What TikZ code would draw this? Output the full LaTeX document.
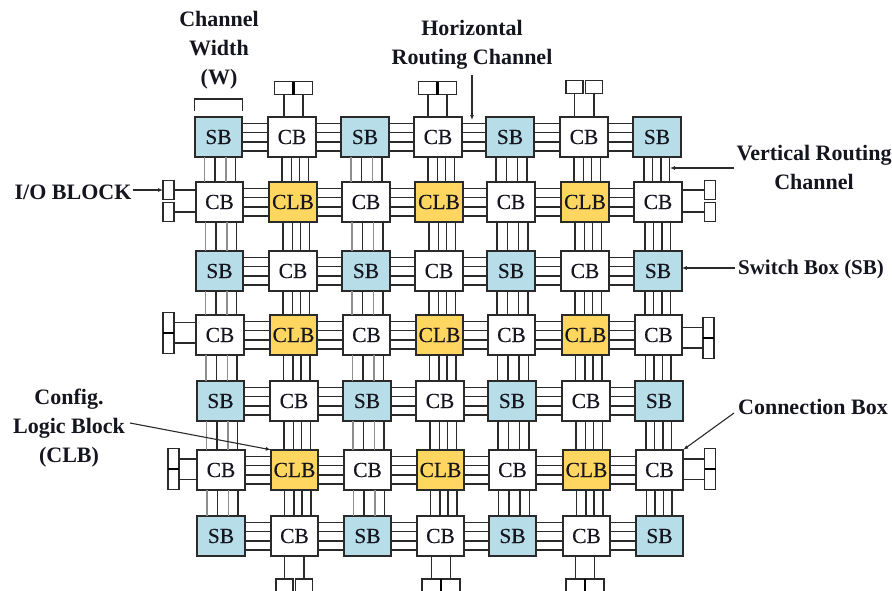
\documentclass[tikz,border=0pt]{standalone}
\usepackage{fontspec}
\setmainfont{Liberation Serif}
\newfontfamily\boxfont[FakeBold=0.25]{Liberation Serif}
\usetikzlibrary{arrows.meta}
\definecolor{sbfill}{HTML}{B7DEE8}
\definecolor{clbfill}{HTML}{FFD65F}
\definecolor{ink}{HTML}{2A2A2A}
\definecolor{wiregray}{HTML}{8E8E8E}
\definecolor{txt}{HTML}{15151F}
\tikzset{
  blockbox/.style={draw=ink,line width=1.6pt,minimum width=47.5pt,minimum height=40.5pt,inner sep=0pt,outer sep=0pt,
    font=\boxfont\fontsize{21.5}{21.5}\selectfont,text=txt},
  sbbox/.style={blockbox,fill=sbfill},
  cbbox/.style={blockbox,fill=white},
  clbbox/.style={blockbox,fill=clbfill},
  wire/.style={draw=ink,line width=1.5pt},
  graywire/.style={draw=wiregray,line width=1.5pt},
  iobox/.style={draw=ink,line width=1.4pt,fill=white,inner sep=0pt,outer sep=0pt},
  iov/.style={iobox,minimum width=11pt,minimum height=#1},
  ioh/.style={iobox,minimum height=13pt,minimum width=#1},
  label/.style={font=\fontsize{22}{26}\selectfont\bfseries,text=txt,align=center,inner sep=0pt},
  pointer/.style={draw=ink,line width=1.1pt,-{Latex[length=5pt,width=4pt]}},
  divider/.style={draw=black,line width=2.2pt},
}
\begin{document}
\begin{tikzpicture}[x=1pt,y=-1pt]
\useasboundingbox (0,0) rectangle (892,590);
\clip (0,0) rectangle (892,590);
\def\colxs{{218.5,292,365,438,510,584,657}}
\foreach \r/\y/\o in {1/137/0,2/202/1,3/271/1,4/335/1.5,5/401/2,6/470/2.5,7/536/2.5}{
  \foreach \c in {1,...,7}{
    \pgfmathsetmacro{\xx}{\colxs[\c-1]+\o}
    \pgfmathtruncatemacro{\isodd}{mod(\c,2)}
    \ifnum\r=2 \def\rr{0}\else\ifnum\r=4 \def\rr{0}\else\ifnum\r=6 \def\rr{0}\else\def\rr{1}\fi\fi\fi
    \ifnum\rr=1
      \ifnum\isodd=1
        \node[sbbox] (n-\r-\c) at (\xx,\y) {SB};
      \else
        \node[cbbox] (n-\r-\c) at (\xx,\y) {CB};
      \fi
    \else
      \ifnum\isodd=1
        \node[cbbox] (n-\r-\c) at (\xx,\y) {CB};
      \else
        \node[clbbox] (n-\r-\c) at (\xx,\y) {CLB};
      \fi
    \fi
  }
}
% horizontal routing channels
\foreach \r in {1,...,7}{
  \foreach \c/\n in {1/2,2/3,3/4,4/5,5/6,6/7}{
    \foreach \d in {-14,-5,4.5,13.5}{
      \draw[wire] ([yshift=\d pt]n-\r-\c.east) -- ([yshift=\d pt]n-\r-\n.west);
    }
  }
}
% vertical routing channels
\foreach \r/\n in {1/2,2/3,3/4,4/5,5/6,6/7}{
  \foreach \c in {2,4,6}{
    \foreach \d in {-10,-0.5,7.5,16.5}{
      \draw[wire] ([xshift=\d pt]n-\r-\c.south) -- ([xshift=\d pt]n-\r-\c.south |- n-\n-\c.north);
    }
  }
  \foreach \d in {-14,-3.5,7.5,17}{
    \draw[wire] ([xshift=\d pt]n-\r-5.south) -- ([xshift=\d pt]n-\r-5.south |- n-\n-5.north);
  }
  \foreach \c in {1,3}{
    \foreach \d in {-3.5,17}{
      \draw[wire] ([xshift=\d pt]n-\r-\c.south) -- ([xshift=\d pt]n-\r-\c.south |- n-\n-\c.north);
    }
    \foreach \d in {-14,7.5}{
      \draw[graywire] ([xshift=\d pt]n-\r-\c.south) -- ([xshift=\d pt]n-\r-\c.south |- n-\n-\c.north);
    }
  }
  \foreach \d in {-13,-4.5,4,12.5}{
    \draw[wire] ([xshift=\d pt]n-\r-7.south) -- ([xshift=\d pt]n-\r-7.south |- n-\n-7.north);
  }
}
% I/O blocks: top
\node[ioh=19pt] (t2a) at (284,88) {};
\node[ioh=19pt] (t2b) at (303,88) {};
\node[ioh=19pt] (t4a) at (428,88) {};
\node[ioh=19pt] (t4b) at (447,88) {};
\node[ioh=17pt] (t6a) at (574.5,87) {};
\node[ioh=17pt] (t6b) at (594,87) {};
\draw[divider] (t2a.north east) -- (t2a.south east);
\draw[divider] (t4a.north east) -- (t4a.south east);
\foreach \a/\b in {t2a/n-1-2,t2b/n-1-2,t4a/n-1-4,t4b/n-1-4,t6a/n-1-6,t6b/n-1-6}{
  \draw[wire] (\a.south) -- (\a.south |- \b.north);
}
% I/O blocks: bottom
\node[ioh=17pt,minimum height=24pt] (b2a) at (284.5,591) {};
\node[ioh=17pt,minimum height=24pt] (b2b) at (304,591) {};
\node[ioh=19pt,minimum height=24pt] (b4a) at (431.5,591) {};
\node[ioh=19pt,minimum height=24pt] (b4b) at (450.5,591) {};
\node[ioh=19pt,minimum height=24pt] (b6a) at (575.5,591) {};
\node[ioh=19pt,minimum height=24pt] (b6b) at (594.5,591) {};
\draw[divider] (b4a.north east) -- (b4a.south east);
\draw[divider] (b6a.north east) -- (b6a.south east);
\foreach \a/\b in {b2a/n-7-2,b2b/n-7-2,b4a/n-7-4,b4b/n-7-4,b6a/n-7-6,b6b/n-7-6}{
  \draw[wire] (\a.north) -- (\a.north |- \b.south);
}
% I/O blocks: left
\node[iov=18.5pt] (l1a) at (168.5,190) {};
\node[iov=18.5pt] (l1b) at (168.5,212) {};
\node[iov=20.5pt] (l2a) at (168.5,322.5) {};
\node[iov=20.5pt] (l2b) at (168.5,343) {};
\node[iov=20.5pt] (l3a) at (173.5,459) {};
\node[iov=20.5pt] (l3b) at (173.5,479.5) {};
\draw[divider] (l2a.south west) -- (l2a.south east);
\draw[divider] (l3a.south west) -- (l3a.south east);
\foreach \a/\b in {l1a/n-2-1,l1b/n-2-1,l2a/n-4-1,l2b/n-4-1,l3a/n-6-1,l3b/n-6-1}{
  \draw[wire] (\a.east) -- (\a.east -| \b.west);
}
% I/O blocks: right
\node[iov=18.5pt] (r1a) at (710,190) {};
\node[iov=18.5pt] (r1b) at (710,212) {};
\node[iov=20.5pt] (r2a) at (708.5,327.5) {};
\node[iov=20.5pt] (r2b) at (708.5,348) {};
\node[iov=20.5pt] (r3a) at (710,459) {};
\node[iov=20.5pt] (r3b) at (710,479.5) {};
\draw[divider] (r2a.south west) -- (r2a.south east);
\draw[divider] (r3a.south west) -- (r3a.south east);
\foreach \a/\b in {r1a/n-2-7,r1b/n-2-7,r2a/n-4-7,r2b/n-4-7,r3a/n-6-7,r3b/n-6-7}{
  \draw[wire] (\a.west) -- (\a.west -| \b.east);
}
% labels
\node[label] (lw) at (219,50.5) {Channel\\[3pt]Width\\[3pt](W)};
\node[label] (lh) at (472,44.5) {Horizontal\\[3pt]Routing Channel};
\node[label] (lv) at (814,167.5) {Vertical Routing\\[3pt]Channel};
\node[label] (lio) at (73,192.5) {I/O BLOCK};
\node[label,font=\fontsize{21}{25}\selectfont\bfseries] (lsb) at (811,269) {Switch Box (SB)};
\node[label] (lcb) at (813,407) {Connection Box};
\node[label] (lclb) at (69,428.5) {Config.\\[3pt]Logic Block\\[3pt](CLB)};
% bracket
\coordinate (bl) at (n-1-1.north west |- 0,111);
\coordinate (br) at (n-1-1.north east |- 0,111);
\draw[draw=ink,line width=1.2pt] (bl) -- ++(0,-12) -- ([yshift=12pt]br) -- (br);
% pointers
\coordinate (ph1) at (472,75);  \coordinate (ph2) at (472,120);
\coordinate (pv1) at (734,168); \coordinate (pv2) at (670,168);
\coordinate (pi1) at (133,190);
\coordinate (ps1) at (735,268);
\coordinate (pc1) at (734,413);
\coordinate (pl1) at (130,423);
\draw[pointer] (ph1) -- (ph2);
\draw[pointer] (pv1) -- (pv2);
\draw[pointer] (pi1) -- (l1a.west);
\draw[pointer] (ps1) -- (n-3-7.east |- ps1);
\draw[pointer] (pc1) -- (n-6-7.north east);
\draw[pointer] (pl1) -- (n-6-2.north west);
\end{tikzpicture}
\end{document}
